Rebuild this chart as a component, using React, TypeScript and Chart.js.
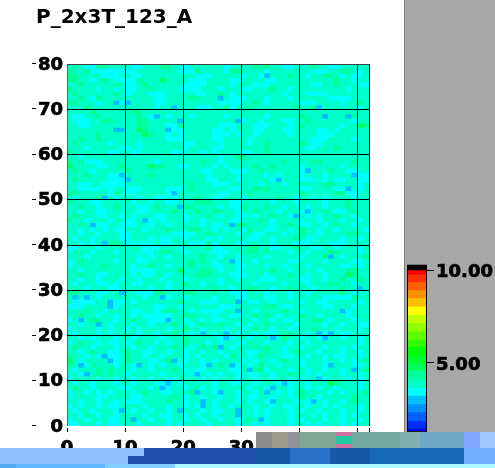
import React, { useEffect, useRef } from "react";
import { Chart, registerables } from "chart.js";

Chart.register(...registerables);

const chartTitle = "P_2x3T_123_A";
const xTicks = [0, 10, 20, 30, 40, 50, 52];
const yTicks = [0, 10, 20, 30, 40, 50, 60, 70, 80];
const columnCount = 52;

// Colour scale, bottom to top: band edges and their colours.
const bandEdges = [1.29, 1.4, 1.83, 2.3, 2.73, 3.19, 3.62, 4.05, 4.52, 4.95, 5.38, 5.84, 6.24, 6.68, 7.13, 7.58, 8.03, 8.49, 8.92, 9.35, 9.78, 10.0, 10.32];
const bandColors = ["#0000ff", "#0030ff", "#0060ff", "#0090ff", "#00c0ff", "#00ffff", "#00ffc8", "#00ff9c", "#00ff60", "#00ff30", "#00ff00", "#30ff00", "#60ff00", "#90ff00", "#c0ff00", "#ffff00", "#ffc000", "#ff9000", "#ff6000", "#ff3000", "#ff0000", "#000000"];

// Cell levels, top row first. These are hand-typed approximations of the mottled
// background: they match its overall mix of colours, NOT the reference cell by cell.
// Only blueCells below were located individually from zoomed crops.
const levelValues: Record<string, number> = { "0": 3.0, "1": 3.4, "2": 3.85, "3": 4.3, "4": 4.7 };
const rows = [
  "2321133222211222332212222221222233322112223221122222",
  "3223111111112222222111322221332222122222221112233212",
  "3322221112211222222222111222221221222232212233212112",
  "3322123211113222422221112222112222112222222222322122",
  "2232222232112322222211112222122211122222221122322211",
  "3222212212112232222111122212221122232212222222221222",
  "2322222232122211122222112232122222222122211112222222",
  "2232132222222221122223322212111222122212222221111222",
  "3322212221122221122222222211112232122222111222212232",
  "2223222222222221222222111223122322222223223222222212",
  "2222322222233222222222222222222222222222222222222222",
  "2112232222223212212221222221222222122222322222222322",
  "2111223322223322222222222222211221222112232222222122",
  "2211222222223322211322222211122211122212322222212243",
  "2222222223224322221122222112122211222112222112122222",
  "2222232222222432212122222111212212222212222111222222",
  "2232232222222222211122222112222122222222221112222122",
  "2322222122221222222211222212222122322222321122222222",
  "2221222221121222222212222112222222322222211222322222",
  "3222222112211222221122212122221122322222222222222222",
  "2212222222222222222222222212233222222222222222222222",
  "3231112222222221222222232212222222222322223322222322",
  "4222211223222243322112222121222232232222122222212222",
  "2322122222322222222222211222111223222222122223221122",
  "2223222111222232222222221222212222121222122212222211",
  "2322222111222222222222221122212222212222111212112211",
  "2211221111222222222223222111222221222122222233222212",
  "2211112122111222211123222222112233322222112222112212",
  "3322222132112222212222222211222322222222322222331122",
  "2122232212221221121222322112221222223221221212222122",
  "3222112222212212211222333222112222212221222212223222",
  "2232212232221123222233222212113222322122212212223222",
  "2212211222221122223222322332212232221222122232112322",
  "2322211221212221122212223212211212232212212122322122",
  "3221222122112212122212212222112223212222122122212212",
  "2232211221112212212222212112233222212232112212322122",
  "2212121211222122232223322121221322112212322122122221",
  "2212212221122222221111223222212211222122322122223322",
  "2122122221122212112212221212222112212223211222212212",
  "2212122332111112112221113122211222212221112221112222",
  "1122212222222111222122223112222332211223221122122212",
  "1322122212222112332212222111222332322212212223322212",
  "2221222222221212212222232212212222122222122232212223",
  "1232222212221122222223232122112212222211222212222112",
  "1222223222212232212223222112211222122122212222211212",
  "2212222222211112222422233212212222232212222122223322",
  "2232211222212112212222333222111222122232212212224322",
  "2212212221221222122212222212212221112222112212232232",
  "2122211212211222212232212212222212222122212223322122",
  "2221222112222212212222222322122332212232221222232212",
  "3322211221221113322233222322111222122212212222232122",
  "2121212222222122212212222122211222112212222211111322",
  "2111122211212222222322211122212112212222122112222212",
  "1112222212222221122122222211122222332112222211222122",
  "2223221222211221233221211112232212222322122222211222",
  "2232212212212111112233222122112232321222322122221222",
  "1222332212232211122212212112222212212112223321222122",
  "2212212122212212223221232232212122322221222212212211",
  "1222212122121222212232212221221232212212223222122212",
  "2122212122221221223221222122212212112332212212211222",
  "2212122212212222122232222212122122212322122122212212",
  "1232212112123221212232221212211322122212212222222212",
  "2322122212212212223221232322122232322122122212212122",
  "2212322112322112212212212212222112322123222122212212",
  "3221212112322122122212122221322123222112212212112212",
  "4212222212322211232212212122221212212322122212212123",
  "3221322212212212122122212232212123221222122212222112",
  "2122232322212212223212112222112233122212212212212223",
  "2212232322122222122221221212212112212232212122212212",
  "1222212212212212211222212122212212212212122212221212",
  "2122122212212221122122222122112212221212212224322212",
  "2322122221122212212212212122222122122212212122122212",
  "1221212122212322112223222112212212221212322221212223",
  "1222211222211222223212212212212112212212322122222322",
  "2212212212111222232212212122212122122221212212212322",
  "1212212112222122212212122122122212212112212212122212",
  "2122122212212212212122212112212212122212122122212212",
  "2213212212222122112212122122212212122212221212212122",
  "1221222112222212212212212212212322122212122212212212",
  "1122212112221222212122221222212212122212212122212122",
];
// Stand-out cells located from zoomed crops: [row from top, column].
const blueCells = [[8, 8], [8, 10], [9, 18], [11, 15], [12, 19], [14, 8], [14, 9], [14, 17], [24, 9], [25, 10], [2, 34], [7, 26], [9, 43], [12, 29], [11, 44], [11, 48], [23, 41], [24, 49], [25, 36], [28, 18], [29, 6], [31, 19], [34, 13], [35, 4], [39, 6], [50, 9], [51, 1], [51, 3], [51, 16], [52, 7], [27, 48], [33, 39], [32, 41], [35, 28], [42, 45], [43, 28], [49, 50], [52, 29], [53, 7], [56, 2], [56, 17], [57, 5], [59, 23], [64, 6], [65, 7], [65, 18], [66, 2], [66, 12], [66, 24], [68, 3], [68, 22], [70, 17], [71, 16], [72, 22], [74, 23], [75, 23], [76, 9], [76, 19], [78, 11], [54, 29], [54, 47], [59, 27], [60, 27], [59, 43], [59, 45], [60, 35], [60, 44], [62, 26], [66, 28], [66, 45], [67, 31], [67, 49], [69, 43], [70, 37], [71, 35], [72, 34], [72, 26], [74, 35], [74, 42], [76, 29], [77, 29], [78, 33]];

// Scan-glitch blocks at the foot of the picture.
const glitchBlocks: [number, number, number, number, string][] = [
  [256, 432, 16, 16, "#8a8a8a"], [272, 432, 16, 16, "#9a9a88"], [288, 432, 12, 16, "#909098"], [300, 432, 36, 16, "#80a898"],
  [336, 432, 16, 4, "#d070a0"], [336, 436, 16, 8, "#20c8a0"], [336, 444, 16, 4, "#d070a0"], [352, 432, 48, 16, "#70a8a0"],
  [400, 432, 20, 16, "#80b0b0"], [420, 432, 44, 16, "#70a8c8"], [464, 432, 16, 16, "#80a8ff"], [480, 432, 15, 16, "#a0c8ff"],
  [0, 448, 144, 8, "#90c0ff"], [0, 456, 128, 8, "#90c0ff"], [144, 448, 112, 8, "#2050b0"], [128, 456, 128, 8, "#2050b0"],
  [256, 448, 34, 16, "#1858a8"], [290, 448, 40, 16, "#2870c8"], [330, 448, 40, 16, "#1858a8"], [370, 448, 94, 16, "#1868b8"],
  [464, 448, 31, 16, "#70b0ff"], [0, 464, 16, 4, "#50a8f0"], [16, 464, 89, 4, "#60b8ff"], [105, 464, 70, 4, "#80d0ff"], [175, 464, 320, 4, "#a8fbff"],
];

const FONT = "'DejaVu Sans', sans-serif";

function colorFor(value: number): string {
  for (let i = 0; i < bandColors.length; i++) {
    if (value < bandEdges[i + 1]) return bandColors[i];
  }
  return bandColors[bandColors.length - 1];
}

function cellValue(row: number, col: number): number {
  if (blueCells.some(([r, c]) => r === row && c === col)) return levelValues["0"];
  return levelValues[rows[row][col] ?? "2"] ?? levelValues["2"];
}

const sideMarks = {
  id: "sideMarks",
  afterDraw(chart: any) {
    const { ctx, scales } = chart;
    ctx.save();
    ctx.strokeStyle = "#000";
    ctx.lineWidth = 1;
    ctx.beginPath();
    for (const v of yTicks) {
      const y = Math.round(scales.y.getPixelForValue(v)) - 0.5;
      ctx.moveTo(32, y);
      ctx.lineTo(36, y);
    }
    for (const v of xTicks) {
      const x = Math.round(scales.x.getPixelForValue(v)) + 0.5;
      ctx.moveTo(x, chart.chartArea.bottom + 2);
      ctx.lineTo(x, chart.chartArea.bottom + 6);
    }
    ctx.stroke();
    ctx.restore();
  },
};

const barFrame = {
  id: "barFrame",
  afterDraw(chart: any) {
    const { ctx, chartArea: a } = chart;
    ctx.save();
    ctx.strokeStyle = "#000";
    ctx.strokeRect(a.left + 0.5, a.top + 0.5, a.right - a.left - 1, a.bottom - a.top);
    ctx.restore();
  },
};

const tickFont = { family: FONT, size: 18, weight: "bold" };

export default function App() {
  const mainRef = useRef<HTMLCanvasElement>(null);
  const barRef = useRef<HTMLCanvasElement>(null);

  useEffect(() => {
    const datasets = rows.map((_, row) => {
      const values = Array.from({ length: columnCount }, (_u, col) => cellValue(row, col));
      return {
        label: `row ${79 - row}`,
        data: values.map((_v, col) => ({ x: col + 0.5, y: [79 - row, 80 - row] })),
        backgroundColor: values.map(colorFor),
        borderWidth: 0,
        grouped: false,
        barPercentage: 1,
        categoryPercentage: 1,
      };
    });
    const main = new Chart(mainRef.current!, {
      type: "bar",
      data: { datasets } as any,
      plugins: [sideMarks],
      options: {
        responsive: false,
        animation: false,
        layout: { autoPadding: false, padding: { left: 36, right: 126, top: 0, bottom: 0 } },
        plugins: {
          legend: { display: false },
          tooltip: { enabled: false },
          title: {
            display: true,
            text: chartTitle,
            align: "start",
            color: "#000",
            font: { family: FONT, size: 20, weight: "bold", lineHeight: 1.2 },
            padding: { top: 6, bottom: 34 },
          },
        },
        scales: {
          x: {
            type: "linear",
            min: 0,
            max: 52,
            offset: false,
            afterBuildTicks: (s: any) => { s.ticks = xTicks.map((value) => ({ value })); },
            afterFit: (s: any) => { s.height = 42; },
            border: { display: false },
            grid: {
              z: 1,
              offset: false,
              drawTicks: false,
              lineWidth: 1,
              color: (c: any) => (c.tick && c.tick.value === 0 ? "#606060" : "#000"),
            },
            ticks: {
              color: "#000",
              textStrokeColor: "#000",
              textStrokeWidth: 0.7,
              maxRotation: 0,
              autoSkip: false,
              padding: 12,
              font: tickFont,
              callback: (v: any) => (v === 52 ? "" : String(v)),
            },
          },
          y: {
            type: "linear",
            min: 0,
            max: 80,
            afterBuildTicks: (s: any) => { s.ticks = yTicks.map((value) => ({ value })); },
            afterFit: (s: any) => { s.width = 31; },
            border: { display: false },
            grid: {
              z: 1,
              drawTicks: false,
              lineWidth: 1,
              color: (c: any) => (c.tick && c.tick.value === 0 ? "rgba(0,0,0,0)" : c.tick && c.tick.value === 80 ? "#404040" : "#000"),
            },
            ticks: {
              color: "#000",
              textStrokeColor: "#000",
              textStrokeWidth: 0.7,
              padding: 4,
              labelOffset: 1,
              autoSkip: false,
              font: tickFont,
            },
          },
        },
      } as any,
    });

    const bar = new Chart(barRef.current!, {
      type: "bar",
      data: {
        labels: ["scale"],
        datasets: bandColors.map((color, i) => ({
          label: `band ${i}`,
          data: [[bandEdges[i], bandEdges[i + 1]]],
          backgroundColor: color,
          borderWidth: 0,
          grouped: false,
          barPercentage: 1,
          categoryPercentage: 1,
        })),
      } as any,
      plugins: [barFrame],
      options: {
        responsive: false,
        animation: false,
        layout: { autoPadding: false, padding: { left: 2, right: 0, top: 4, bottom: 4 } },
        plugins: { legend: { display: false }, tooltip: { enabled: false } },
        scales: {
          x: { display: false },
          y: {
            position: "right",
            min: 1.29,
            max: 10.32,
            afterFit: (s: any) => { s.width = 68; },
            border: { display: false },
            grid: { drawOnChartArea: false, color: "#000", tickLength: 7, tickColor: "#000" },
            ticks: {
              color: "#000",
              textStrokeColor: "#000",
              textStrokeWidth: 0.7,
              stepSize: 5,
              includeBounds: false,
              padding: 2,
              labelOffset: 2,
              font: tickFont,
              callback: (v: any) => Number(v).toFixed(2),
            },
          },
        },
      } as any,
    });

    return () => {
      main.destroy();
      bar.destroy();
    };
  }, []);

  const abs = (left: number, top: number, width: number, height: number, background?: string): React.CSSProperties => ({
    position: "absolute", left, top, width, height, background,
  });

  return (
    <div style={{ position: "fixed", left: 0, top: 0, width: 495, height: 468, overflow: "hidden", background: "#fff" }}>
      <div style={abs(404, 0, 1, 432, "#7c7c7c")} />
      <div style={abs(405, 0, 90, 432, "#a8a8a8")} />
      <canvas ref={mainRef} width={495} height={468} style={{ ...abs(0, 0, 495, 468), display: "block" }} />
      <canvas ref={barRef} width={90} height={192} style={{ ...abs(405, 252, 90, 192), display: "block" }} />
      {glitchBlocks.map(([x, y, w, h, c], i) => (
        <div key={i} style={abs(x, y, w, h, c)} />
      ))}
    </div>
  );
}
